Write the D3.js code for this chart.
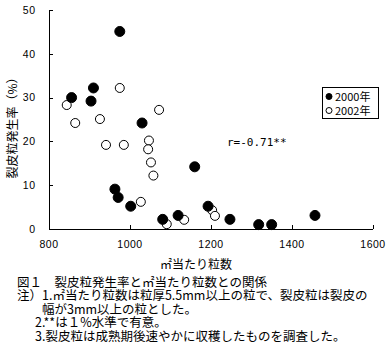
<!DOCTYPE html>
<html>
<head>
<meta charset="utf-8">
<script src="https://cdn.jsdelivr.net/npm/d3@7"></script>
<style>
body { margin: 0; background: #fff; }
#chart { position: relative; width: 391px; height: 353px; }
svg { display: block; }
.axis path, .axis line { stroke: #000; shape-rendering: crispEdges; }
.axis text { font-family: "Liberation Sans", sans-serif; font-size: 10.5px; fill: #000; }
.jp { font-family: "Noto Sans CJK JP", sans-serif; fill: #000; }
#caption { position: absolute; left: 0; top: 274.8px; font-family: "Noto Sans CJK JP", sans-serif;
  font-size: 12.5px; line-height: 13.5px; color: #000; white-space: nowrap; }
#caption div { height: 13.5px; }
</style>
</head>
<body>
<div id="chart"></div>
<script>
// 2000年 (filled)
var x2000 = [857, 911, 905, 976, 1031, 964, 972, 1003, 1082, 1120, 1161, 1194, 1248, 1319, 1351, 1458];
var y2000 = [30, 32.2, 29.2, 45.1, 24.2, 9.1, 7.2, 5.2, 2.2, 3.1, 14.2, 5.2, 2.2, 1.0, 1.0, 3.1];
// 2002年 (open)
var x2002 = [845, 866, 927, 976, 1073, 942, 986, 1048, 1046, 1053, 1059, 1028, 1092, 1135, 1204, 1211];
var y2002 = [28.3, 24.2, 25.1, 32.2, 27.2, 19.2, 19.2, 20.2, 18.2, 15.2, 12.2, 6.2, 1.1, 2.1, 4.3, 3.0];

var xTicks = [800, 1000, 1200, 1400, 1600];
var yTicks = [0, 10, 20, 30, 40, 50];
var seriesNames = ["2000年", "2002年"];

var captionLines = [
  "図１　裂皮粒発生率と㎡当たり粒数との関係",
  "注）1.㎡当たり粒数は粒厚5.5mm以上の粒で、裂皮粒は裂皮の",
  "幅が3mm以上の粒とした。",
  "2.**は１%水準で有意。",
  "3.裂皮粒は成熟期後速やかに収穫したものを調査した。"
];

var margin = { top: 10, left: 48.5 };
var width = 324, height = 219;

var svg = d3.select("#chart").append("svg")
    .attr("width", 391)
    .attr("height", 353);

var g = svg.append("g")
    .attr("transform", "translate(" + margin.left + "," + margin.top + ")");

var x = d3.scaleLinear().domain([800, 1600]).range([0, width]);
var y = d3.scaleLinear().domain([0, 50]).range([height, 0]);

var xAxis = d3.axisBottom(x).tickValues(xTicks).tickFormat(d3.format("d"))
    .tickSize(-4).tickSizeOuter(0).tickPadding(12);
var yAxis = d3.axisLeft(y).tickValues(yTicks).tickFormat(d3.format("d"))
    .tickSize(-4).tickSizeOuter(0).tickPadding(13);

g.append("g").attr("class", "x-axis axis")
    .attr("transform", "translate(0," + height + ")")
    .call(xAxis);
g.append("g").attr("class", "y-axis axis").call(yAxis);
g.selectAll(".axis text").attr("letter-spacing", 0.5);

// points
var pts2000 = x2000.map(function(d, i) { return { x: d, y: y2000[i] }; });
var pts2002 = x2002.map(function(d, i) { return { x: d, y: y2002[i] }; });

g.selectAll(".p2002").data(pts2002).enter().append("circle")
    .attr("class", "p2002")
    .attr("cx", function(d) { return x(d.x); })
    .attr("cy", function(d) { return y(d.y); })
    .attr("r", 4.5)
    .attr("fill", "#fff")
    .attr("stroke", "#000");

g.selectAll(".p2000").data(pts2000).enter().append("circle")
    .attr("class", "p2000")
    .attr("cx", function(d) { return x(d.x); })
    .attr("cy", function(d) { return y(d.y); })
    .attr("r", 5)
    .attr("fill", "#000")
    .attr("stroke", "#000");

// legend
var lg = svg.append("g").attr("transform", "translate(322,87)");
lg.append("rect").attr("width", 56).attr("height", 31)
    .attr("fill", "#fff").attr("stroke", "#000").attr("shape-rendering", "crispEdges");
seriesNames.forEach(function(name, i) {
  lg.append("circle").attr("cx", 7).attr("cy", 9.5 + i * 14).attr("r", 3)
      .attr("fill", i === 0 ? "#000" : "#fff").attr("stroke", "#000");
  lg.append("text").attr("class", "jp").attr("x", 13).attr("y", 14 + i * 14)
      .attr("font-size", 11).text(name);
});

// r annotation
svg.append("text").attr("x", 227).attr("y", 146)
    .attr("font-family", "'DejaVu Sans Mono', monospace")
    .attr("font-size", 11).text("r=-0.71**");

// axis titles
svg.append("text").attr("class", "jp").attr("x", 196).attr("y", 269)
    .attr("text-anchor", "middle").attr("font-size", 12).text("㎡当たり粒数");
svg.append("text").attr("class", "jp")
    .attr("transform", "translate(17,125) rotate(-90)")
    .attr("text-anchor", "middle").attr("font-size", 12).text("裂皮粒発生率（%）");

// caption (html lines so the line boxes keep the tight spacing)
var capX = [17, 17, 42, 35, 35];
d3.select("#chart").append("div").attr("id", "caption")
  .selectAll("div").data(captionLines).enter().append("div")
    .style("padding-left", function(d, i) { return capX[i] + "px"; })
    .text(function(d) { return d; });
</script>
</body>
</html>
